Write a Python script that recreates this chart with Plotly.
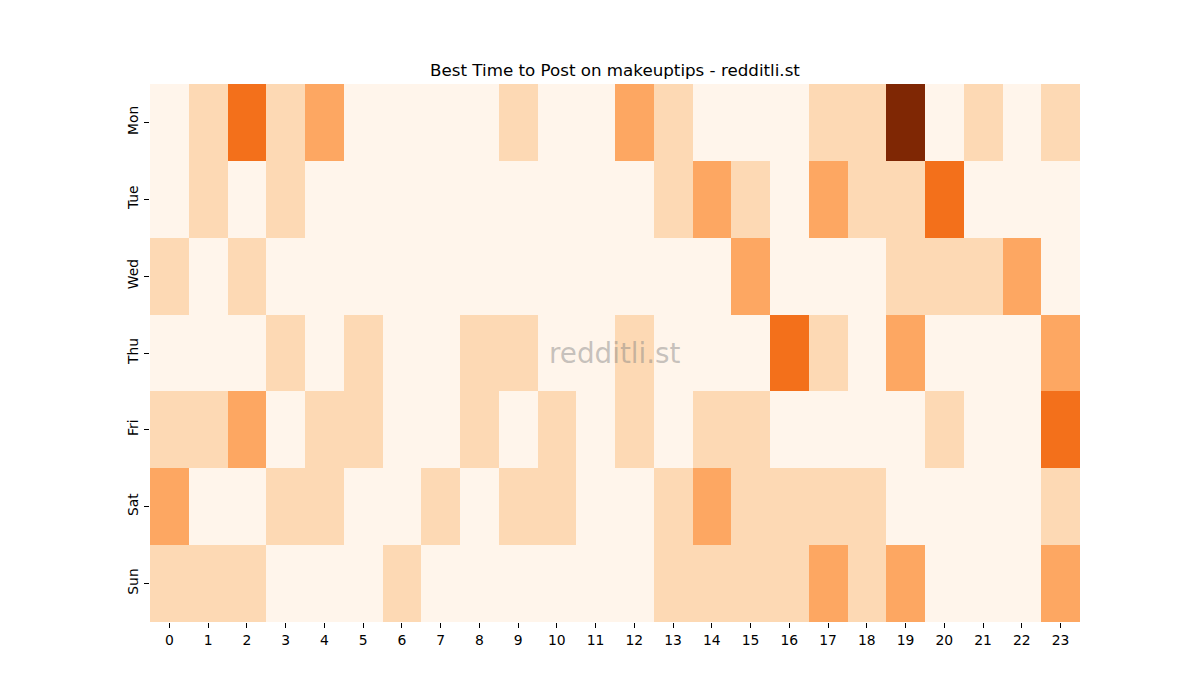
import plotly.graph_objects as go

days = ["Mon", "Tue", "Wed", "Thu", "Fri", "Sat", "Sun"]
hours = list(range(24))
mon = [0, 1, 3, 1, 2, 0, 0, 0, 0, 1, 0, 0, 2, 1, 0, 0, 0, 1, 1, 5, 0, 1, 0, 1]
tue = [0, 1, 0, 1, 0, 0, 0, 0, 0, 0, 0, 0, 0, 1, 2, 1, 0, 2, 1, 1, 3, 0, 0, 0]
wed = [1, 0, 1, 0, 0, 0, 0, 0, 0, 0, 0, 0, 0, 0, 0, 2, 0, 0, 0, 1, 1, 1, 2, 0]
thu = [0, 0, 0, 1, 0, 1, 0, 0, 1, 1, 0, 0, 1, 0, 0, 0, 3, 1, 0, 2, 0, 0, 0, 2]
fri = [1, 1, 2, 0, 1, 1, 0, 0, 1, 0, 1, 0, 1, 0, 1, 1, 0, 0, 0, 0, 1, 0, 0, 3]
sat = [2, 0, 0, 1, 1, 0, 0, 1, 0, 1, 1, 0, 0, 1, 2, 1, 1, 1, 1, 0, 0, 0, 0, 1]
sun = [1, 1, 1, 0, 0, 0, 1, 0, 0, 0, 0, 0, 0, 1, 1, 1, 1, 2, 1, 2, 0, 0, 0, 2]
z = [mon, tue, wed, thu, fri, sat, sun]

font = "DejaVu Sans"
fig = go.Figure(go.Heatmap(
    z=z, x=hours, y=days, colorscale="Oranges", zmin=0, zmax=5,
    showscale=False, xgap=0, ygap=0,
))
fig.update_layout(
    width=1200, height=700,
    margin=dict(l=150, r=120, t=84, b=78),
    paper_bgcolor="white", plot_bgcolor="white",
    font=dict(family=font, size=13.9, color="black"),
    title=dict(text="Best Time to Post on makeuptips - redditli.st",
               xref="paper", x=0.5, xanchor="center", y=1 - 70 / 700, yanchor="middle",
               font=dict(family=font, size=16.7, color="black")),
    annotations=[dict(text="redditli.st", x=0.5, y=0.5, xref="paper", yref="paper",
                      showarrow=False, font=dict(family=font, size=27.8,
                                                 color="rgba(128,128,128,0.45)"))],
)
fig.update_xaxes(tickmode="array", tickvals=hours, ticktext=[str(h) for h in hours],
                 ticks="outside", ticklen=5, tickcolor="black", showgrid=False,
                 zeroline=False, showline=False)
fig.update_yaxes(autorange="reversed", ticks="outside", ticklen=5, tickcolor="black",
                 tickangle=-90, showgrid=False, zeroline=False, showline=False)
fig.write_html("out.html")
